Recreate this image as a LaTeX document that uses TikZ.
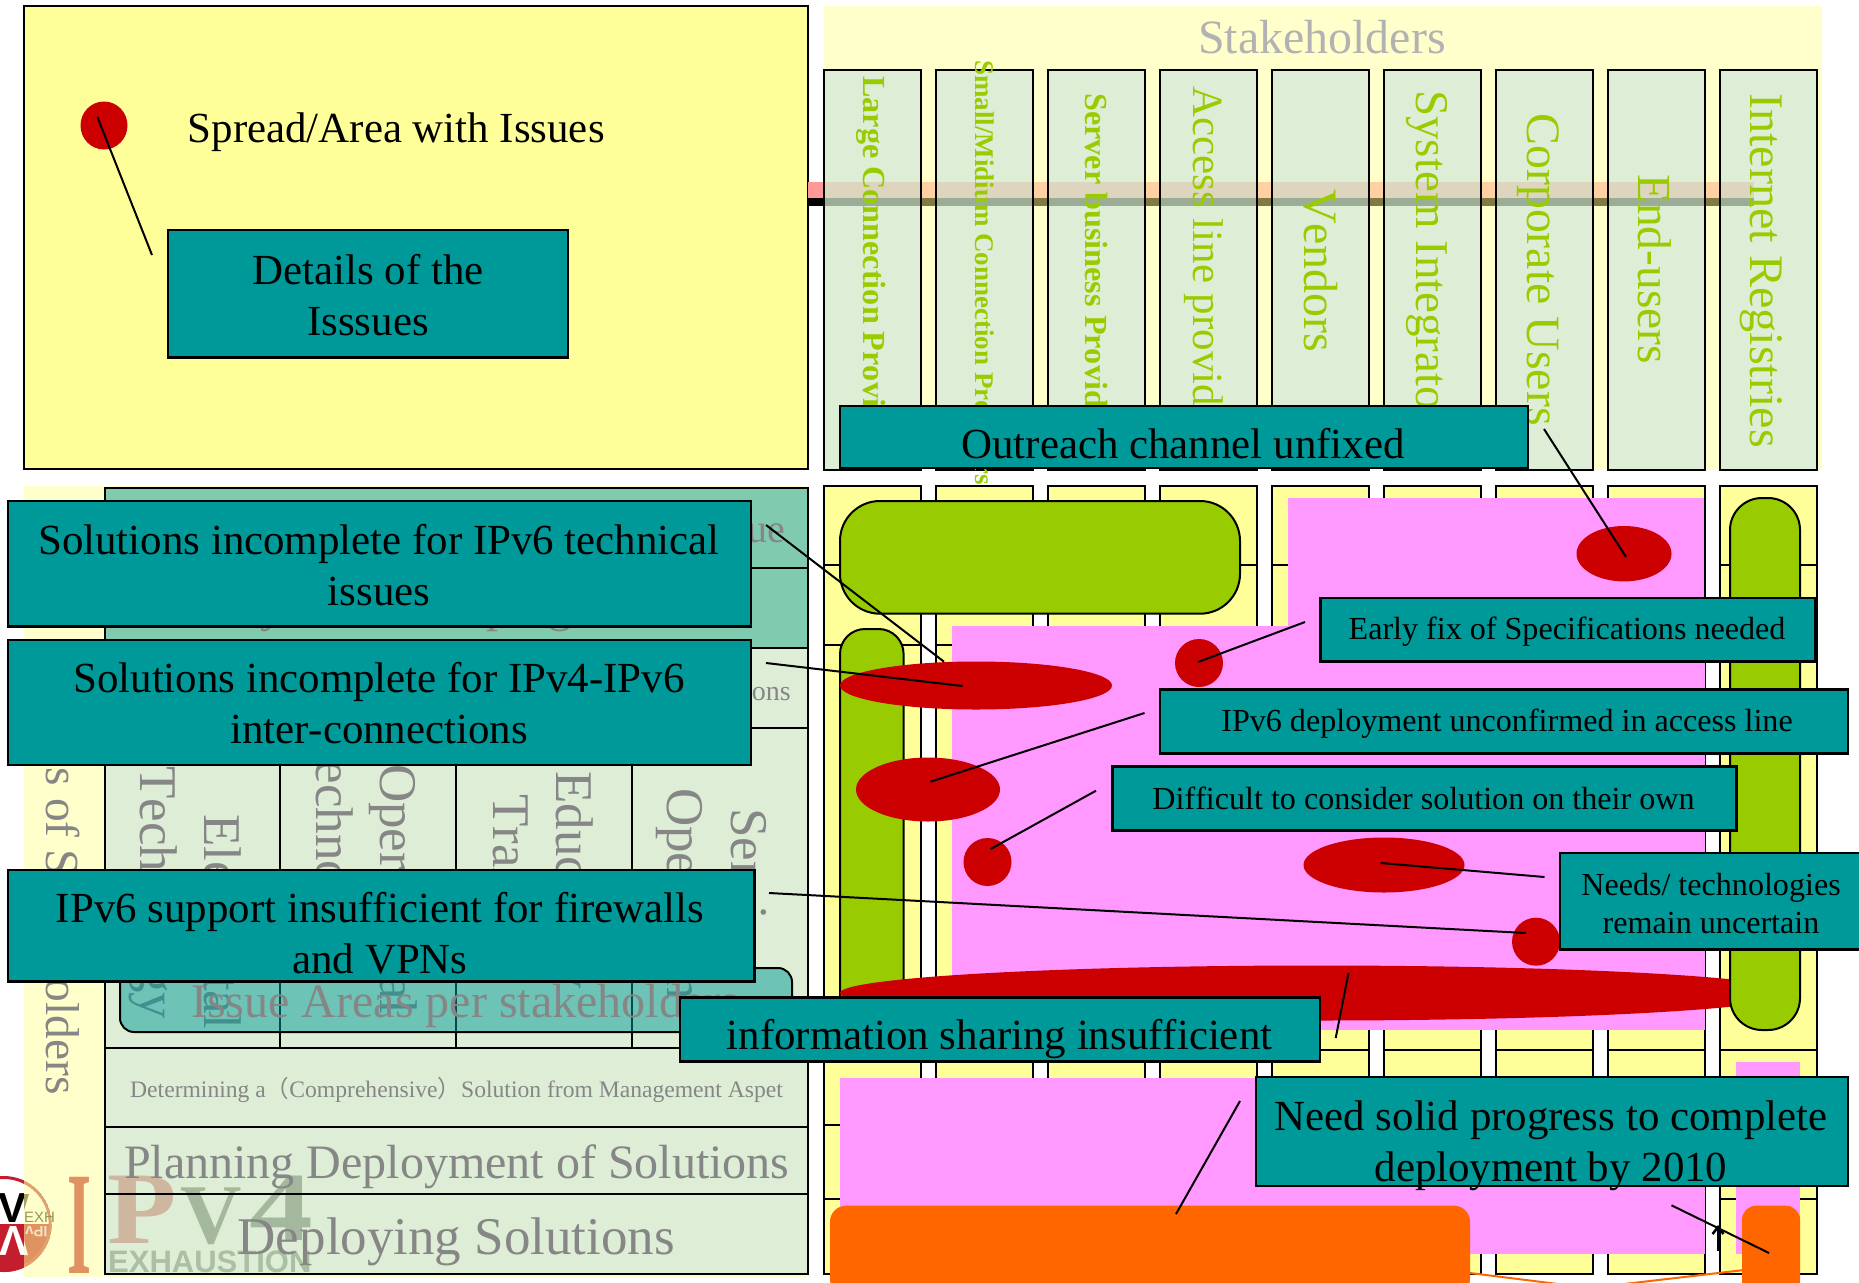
\documentclass[tikz,border=0pt]{standalone}
\usepackage{fontspec}
\setmainfont[Kerning=Off]{Liberation Serif}
\newfontfamily\lsans{Liberation Sans}
\newfontfamily\cjkf{Noto Sans CJK SC}
\usetikzlibrary{shapes.geometric,arrows.meta}
\definecolor{paleyel}{HTML}{FFFFCC}
\definecolor{yel}{HTML}{FFFF99}
\definecolor{teal}{HTML}{009999}
\definecolor{pale}{HTML}{DEEED6}
\definecolor{rowteal}{HTML}{80CBB0}
\definecolor{pinkf}{HTML}{FF99FF}
\definecolor{grn}{HTML}{99CC00}
\definecolor{redd}{HTML}{CC0000}
\definecolor{orng}{HTML}{FF6600}
\definecolor{gtxt}{HTML}{868686}
\definecolor{logored}{HTML}{C41E2E}
\newcommand\fsz[1]{\fontsize{#1}{#1}\selectfont}
\newcommand\fsl[2]{\fontsize{#1}{#2}\selectfont}
\tikzset{
  frame/.style={draw=black,line width=2pt},
  pill/.style={draw=black,line width=2pt,fill=grn},
  redell/.style={shape=ellipse,fill=redd,inner sep=0pt,draw=none},
  conn/.style={draw=black,line width=2pt},
  tealrect/.style={draw=black,line width=2.5pt,fill=teal},
  tealtext/.style={inner sep=0pt,align=center,text=black},
  grey/.style={inner sep=0pt,text=gtxt},
  vgrey/.style={inner sep=0pt,text=gtxt,rotate=-90,anchor=base west},
  vgreen/.style={inner sep=0pt,text=grn,rotate=-90,anchor=base west},
}
\newcommand\tbox[9]{% name x1 y1 x2 y2 cx cy font text
  \path[tealrect] (#2,#3) rectangle (#4,#5);
  \node[tealtext,font=#8] (#1) at (#6,#7) {#9};}
\newcommand\redspot[5]{\node[redell,minimum width=#4pt,minimum height=#5pt] (#1) at (#2,#3) {};}
\begin{document}
\begin{tikzpicture}[x=1pt,y=-1pt]
\useasboundingbox (0,0) rectangle (1859,1282);
\clip (0,0) rectangle (1859,1282);
\fill[white] (0,0) rectangle (1859,1282);
% top left panel
\path[frame,fill=yel] (24,6) rectangle (808,469);
\redspot{legdot}{104}{125.5}{47}{48}
\node[inner sep=0pt,anchor=base west,font=\fsz{42.9}] (spread) at (187.5,142) {Spread/Area with Issues};
\coordinate (legA) at (97.4,117);
\coordinate (legB) at (152,255);
\draw[conn] (legA) -- (legB);
\tbox{details}{168}{230}{568}{357.7}{368}{295}{\fsl{42.9}{51}}{Details of the\\Isssues}
% left band with logo
\begin{scope}
  \clip (0,1170) rectangle (24,1282);
  \fill[white] (3.7,1224) circle (48);
  \begin{scope}
    \clip (3.7,1224) circle (48);
    \fill[logored] (-50,1224) rectangle (60,1280);
  \end{scope}
  \draw[logored,line width=3pt] (3.7,1224) circle (46.5);
  \node[inner sep=0pt,anchor=base,font=\lsans\bfseries\fsz{42},text=black] (logoV) at (13,1222) {V};
  \node[inner sep=0pt,anchor=base,rotate=180,font=\lsans\bfseries\fsz{42},text=white] (logoVb) at (13,1226) {V};
\end{scope}
\fill[paleyel] (24,486) rectangle (808,1277);
\begin{scope}
  \clip (24,1170) rectangle (60,1282);
  \clip (3.7,1224) circle (48);
  \fill[color={rgb,255:red,223;green,147;blue,96}] (24,1224) rectangle (60,1280);
  \draw[color={rgb,255:red,224;green,160;blue,112},line width=3pt] (3.7,1224) circle (46.5);
  \fill[color={rgb,255:red,168;green,160;blue,96}] (24,1194) -- (29,1194) -- (24,1210) -- cycle;
  \fill[color={rgb,255:red,255;green,240;blue,215}] (24,1225) -- (24,1240) -- (28,1255) -- (24,1255) -- cycle;
\end{scope}
\node[inner sep=0pt,anchor=base west,font=\lsans\fsz{15},text={rgb,255:red,150;green,150;blue,90}] (logoE) at (24,1222) {EXH};
\node[inner sep=0pt,anchor=base east,rotate=180,font=\lsans\bfseries\fsz{15},text={rgb,255:red,245;green,225;blue,190}] (logoI) at (25,1226) {IPv};
% left table fills
\fill[rowteal] (104.6,488) rectangle (808,648);
\fill[pale] (104.6,648) rectangle (808,1274);
% logo big letters
\node[inner sep=0pt,anchor=base,transform shape,xscale=.42,font=\bfseries\fsz{147},text={rgb,255:red,224;green,146;blue,96}] (bigI) at (79.7,1273) {I};
\node[inner sep=0pt,anchor=base,transform shape,xscale=1.1,font=\bfseries\fsz{103},text={rgb,255:red,207;green,183;blue,159}] (bigP) at (142,1243) {P};
\node[inner sep=0pt,anchor=base,font=\bfseries\fsz{85},text={rgb,255:red,163;green,184;blue,156}] (bigV) at (211,1243) {V};
\node[inner sep=0pt,anchor=base,transform shape,xscale=1.3,font=\bfseries\fsz{98},text={rgb,255:red,163;green,184;blue,156}] (big4) at (281,1240) {4};
\node[inner sep=0pt,anchor=base west,font=\lsans\bfseries\fsz{31},text={rgb,255:red,171;green,191;blue,162}] (exh) at (108,1272) {EXHAUSTION};
% table texts
\node[vgrey,font=\fsz{47.5}] (bandt) at (46,670) {Issues of Stakeholders};
\node[vgrey,font=\fsz{53}] (c1a) at (140,766) {Technology};
\node[vgrey,font=\fsz{53}] (c1b) at (204,814) {Elemental};
\node[vgrey,font=\fsz{53}] (c2a) at (316,728) {Technology};
\node[vgrey,font=\fsz{53}] (c2b) at (380,764) {Operational};
\node[vgrey,font=\fsz{53}] (c3a) at (493,794) {Training};
\node[vgrey,font=\fsz{53}] (c3b) at (556,771) {Educatory};
\node[vgrey,font=\fsz{53}] (c4a) at (667,788) {Operation};
\node[vgrey,font=\fsz{53}] (c4b) at (731,808) {Service};
\node[grey,anchor=base east,font=\fsz{40}] (r1) at (785,542) {Issue};
\node[grey,anchor=base west,font=\fsz{48}] (r2) at (172,621) {Study of Developing};
\node[grey,anchor=base east,font=\fsz{28}] (r3) at (791,700) {Solutions};
\node[grey,anchor=base west,font=\fsz{23.6}] (r4) at (130,1097) {Determining a{\cjkf （}Comprehensive{\cjkf ）}Solution from Management Aspet};
\node[grey,anchor=base west,font=\fsz{48}] (r5) at (124,1178) {Planning Deployment of Solutions};
\node[grey,anchor=base west,font=\fsz{53}] (r6) at (237.5,1254) {Deploying Solutions};
% table outlines
\foreach \ya/\yb in {488/568,568/648,648/728,728/1048,1048/1127,1127/1194,1194/1274}
  \draw[frame] (104.6,\ya) rectangle (808,\yb);
\foreach \xx in {280,456,632} \draw[frame] (\xx,728) -- (\xx,1048);
% issue areas box
\path[draw=black,line width=2pt,fill=teal,fill opacity=.5,rounded corners=14pt] (120,968) rectangle (792,1032);
\node[grey,anchor=base west,font=\fsz{48}] (issue) at (191,1017) {Issue Areas per stakeholders};
% stakeholders
\fill[paleyel] (823.5,6) rectangle (1822,470);
\node[inner sep=0pt,anchor=base,font=\fsz{47.9},text={rgb,255:red,178;green,178;blue,178}] (stake) at (1322,53.7) {Stakeholders};
% strip
\fill[color={rgb,255:red,255;green,153;blue,153}] (808,182) rectangle (823.5,198);
\fill[black] (808,198) rectangle (823.5,206);
\fill[color={rgb,255:red,255;green,208;blue,160}] (823.5,182) rectangle (1754,198);
\fill[color={rgb,255:red,130;green,122;blue,70}] (823.5,198) rectangle (1754,206);
% columns
\foreach \i in {0,...,8}{
  \pgfmathsetmacro\xa{824+112*\i}
  \pgfmathsetmacro\xb{\xa+96.5}
  \fill[pale] (\xa,69.5) rectangle (\xb,470);
  \pgfmathsetmacro\xc{min(\xb,1754)}
  \fill[color={rgb,255:red,222;green,213;blue,190}] (\xa,182) rectangle (\xc,198);
  \fill[color={rgb,255:red,155;green,173;blue,150}] (\xa,198) rectangle (\xc,206);
  \draw[frame] (\xa,69.5) rectangle (\xb,470);
  \path[frame,fill=yel] (\xa,486) rectangle (\xb,1274);
  \foreach \yy in {565,645,1050,1125,1199} \draw[frame] (\xa,\yy) -- (\xb,\yy);
}
\node[vgreen,font=\bfseries\fsz{32.2}] (s1) at (863,76) {Large Connection Providers};
\node[vgreen,font=\bfseries\fsz{27}] (s2) at (975,60) {Small/Midium Connection Providers};
\node[vgreen,font=\bfseries\fsz{32.2}] (s3) at (1085.5,93) {Server business Providers};
\node[vgreen,font=\fsz{43}] (s4) at (1193,86) {Access line providers};
\node[vgreen,font=\fsz{48}] (s5) at (1304,189) {Vendors};
\node[vgreen,font=\fsz{47}] (s6) at (1416,90) {System Integrators};
\node[vgreen,font=\fsz{47.9}] (s7) at (1527,113) {Corporate Users};
\node[vgreen,font=\fsz{47.5}] (s8) at (1638,174) {End-users};
\node[vgreen,font=\fsz{48.2}] (s9) at (1750,93) {Internet Registries};
% pink regions
\fill[pinkf] (1288,498) rectangle (1704,640);
\fill[pinkf] (952,626) rectangle (1705,1030);
\fill[pinkf] (840,1078) rectangle (1705,1254);
\fill[pinkf] (1736,1062) rectangle (1800,1254);
% green shapes
\path[pill,rounded corners=40pt] (840,501) rectangle (1240,613.7);
\path[pill,rounded corners=25pt] (840,629) rectangle (903.6,1040);
% red spots
\redspot{e1}{1624}{553.7}{95}{55.4}
\redspot{e2}{976}{685.5}{272}{48}
\redspot{e3}{1199}{663}{48}{48}
\redspot{e4}{928}{789.5}{144}{64}
\redspot{e5}{987.5}{862}{48}{48}
\redspot{e6}{1384}{865}{161}{55}
\redspot{e7}{1536}{941.7}{48}{48}
\redspot{e8}{1317}{993}{954}{55}
\path[pill,rounded corners=32pt] (1730,498) rectangle (1800,1030);
% orange
\draw[orng,line width=2pt] (1470,1273) -- (1590,1288) -- (1744,1270);
\fill[orng,rounded corners=16pt] (830,1205.7) rectangle (1470,1295);
\fill[orng,rounded corners=14pt] (1742,1205.7) rectangle (1800,1295);
\coordinate (arrA) at (1718,1250.7);
\coordinate (arrB) at (1718,1225);
\draw[line width=2.5pt,-{Straight Barb[length=7pt,width=11pt]}] (arrA) -- (arrB);
% connector ends
\coordinate (c1a0) at (766,525);    \coordinate (c1b0) at (944,661.7);
\coordinate (c2a0) at (766,663);    \coordinate (c2b0) at (962.5,686);
\coordinate (c3a0) at (769,893);    \coordinate (c3b0) at (1525.7,933);
\coordinate (c4a0) at (1544,429);   \coordinate (c4b0) at (1626,557);
\coordinate (c5a0) at (1305,622);   \coordinate (c5b0) at (1198,662);
\coordinate (c6a0) at (1144.5,713); \coordinate (c6b0) at (930.4,781.7);
\coordinate (c7a0) at (1096,790.7); \coordinate (c7b0) at (990.6,849);
\coordinate (c8a0) at (1544.5,877); \coordinate (c8b0) at (1380.6,863);
\coordinate (c9a0) at (1348.5,973); \coordinate (c9b0) at (1335.7,1038);
\coordinate (c10a) at (1240,1101);  \coordinate (c10b) at (1176,1214);
\coordinate (c11a) at (1671.5,1205.3); \coordinate (c11b) at (1769,1253);
\foreach \p/\q in {c1a0/c1b0,c2a0/c2b0,c3a0/c3b0,c4a0/c4b0,c5a0/c5b0,c6a0/c6b0,c7a0/c7b0,c8a0/c8b0,c9a0/c9b0,c10a/c10b,c11a/c11b}
  \draw[conn] (\p) -- (\q);
% callouts
\tbox{outreach}{840}{406}{1528}{468}{1183}{444}{\fsz{42.9}}{Outreach channel unfixed}
\tbox{solsix}{8}{501}{751}{626.7}{379}{565}{\fsl{42.9}{51}}{Solutions incomplete for IPv6 technical\\issues}
\tbox{solfour}{8}{640}{751}{765}{379}{703}{\fsl{42.9}{51}}{Solutions incomplete for IPv4-IPv6\\inter-connections}
\tbox{ipvsup}{8}{870}{754.7}{981.7}{380}{933}{\fsl{42.9}{51}}{IPv6 support insufficient for firewalls\\and VPNs}
\tbox{infos}{680}{997.7}{1320}{1061.7}{999.5}{1039}{\fsz{42.9}}{information sharing insufficient}
\tbox{early}{1320.5}{598}{1815}{661.7}{1567}{632}{\fsz{32.1}}{Early fix of Specifications needed}
\tbox{deploy}{1160}{689.3}{1848}{753.7}{1507}{724}{\fsz{32.1}}{IPv6 deployment unconfirmed in access line}
\tbox{diff}{1112.5}{766.7}{1736.4}{830.7}{1423.5}{798}{\fsz{32.1}}{Difficult to consider solution on their own}
\tbox{needs}{1560}{853}{1870}{949.3}{1711}{904}{\fsl{32.1}{38}}{Needs/ technologies\\remain uncertain}
\tbox{solid}{1256}{1077}{1848}{1186}{1551}{1146}{\fsl{42.9}{51}}{Need solid progress to complete\\deployment by 2010}
\end{tikzpicture}
\end{document}
